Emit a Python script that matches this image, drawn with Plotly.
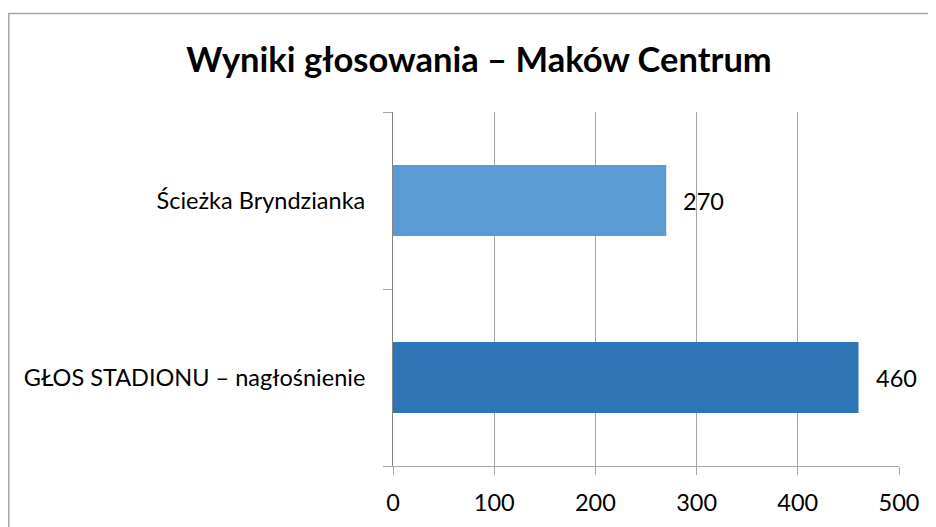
import plotly.graph_objects as go

# data
categories = ["GŁOS STADIONU – nagłośnienie", "Ścieżka Bryndzianka"]
votes = [460, 270]
bar_colors = ["#2E75B6", "#5B9BD5"]
x_ticks = [0, 100, 200, 300, 400, 500]

FONT = "Lato, Calibri, Carlito, sans-serif"

# page body has an 8px margin, so the figure is a bit smaller than the window
W, H = 928, 519

fig = go.Figure()

fig.add_trace(go.Bar(
    x=votes,
    y=categories,
    orientation='h',
    width=0.4,
    marker=dict(color=bar_colors, line=dict(width=0)),
    hoverinfo='x+y',
))

# data labels to the right of each bar
for cat, val in zip(categories, votes):
    fig.add_annotation(
        x=val, y=cat, text=str(val),
        showarrow=False, xanchor='left', xshift=15,
        font=dict(family=FONT, size=23.5, color='#000000'),
    )

# outer chart frame (left/top edges visible, the rest runs off the page)
fig.add_shape(
    type='rect', xref='paper', yref='paper',
    x0=(0.8 - 385) / 506, x1=2, y0=-1, y1=(458 - 5.5) / 354,
    line=dict(color='#A6A6A6', width=1.5),
    fillcolor='rgba(0,0,0,0)', layer='below',
)

fig.update_layout(
    width=W,
    height=H,
    margin=dict(l=385, r=37, t=104, b=61),
    paper_bgcolor='white',
    plot_bgcolor='white',
    showlegend=False,
    bargap=0.6,
    font=dict(family=FONT, size=23.5, color='#000000'),
    title=dict(
        text="<b>Wyniki głosowania – Maków Centrum</b>",
        x=471 / W, xanchor='center',
        y=1 - 52 / H, yanchor='middle',
        font=dict(family=FONT, size=34.5, color='#000000'),
    ),
    xaxis=dict(
        range=[0, 500],
        tickvals=x_ticks,
        showgrid=True,
        gridcolor='#A6A6A6',
        gridwidth=1,
        zeroline=False,
        showline=True,
        linecolor='#A6A6A6',
        linewidth=1,
        ticks='outside',
        ticklen=8,
        tickcolor='#A6A6A6',
        ticklabelstandoff=8,
        tickfont=dict(family=FONT, size=23.5),
        fixedrange=True,
    ),
    yaxis=dict(
        categoryorder='array',
        categoryarray=categories,
        showgrid=False,
        zeroline=False,
        showline=True,
        linecolor='#868686',
        linewidth=1,
        ticks='outside',
        tickson='boundaries',
        ticklen=9,
        tickcolor='#A6A6A6',
        ticklabelstandoff=22,
        tickfont=dict(family=FONT, size=23.5),
        fixedrange=True,
    ),
)

fig.write_html("out.html")
